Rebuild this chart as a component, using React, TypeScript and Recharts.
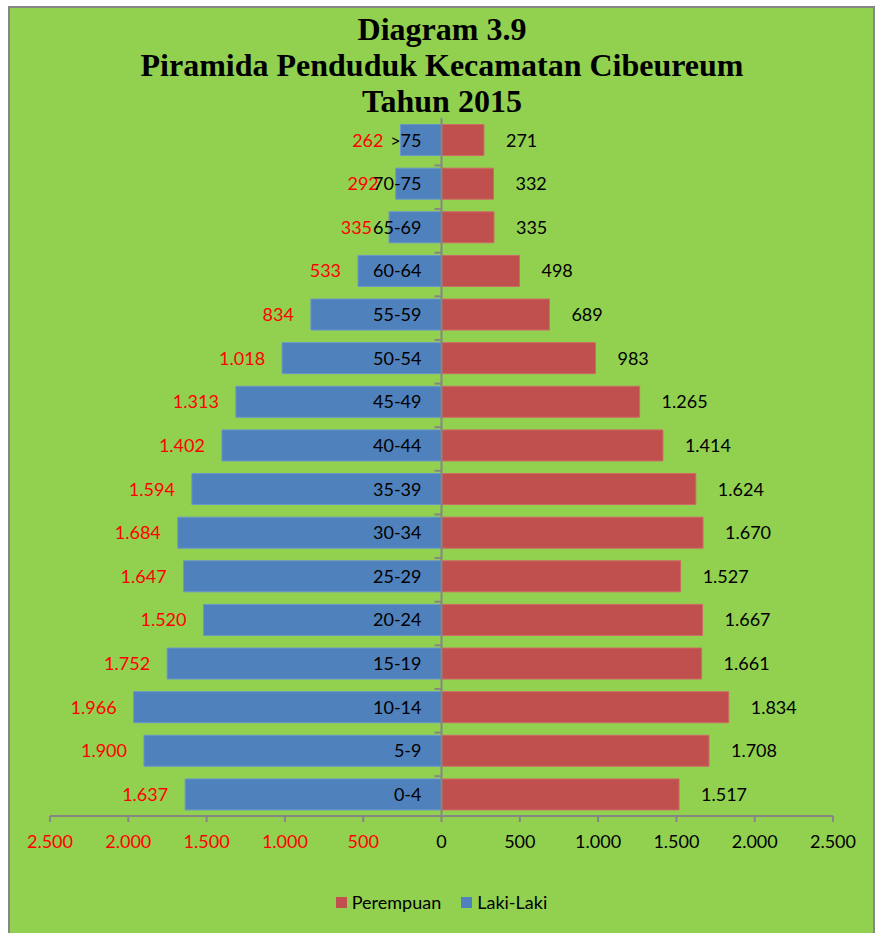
import React from "react";
import { BarChart, Bar, XAxis, YAxis, ReferenceLine, LabelList, Legend } from "recharts";

const AGE_GROUPS = [">75", "70-75", "65-69", "60-64", "55-59", "50-54", "45-49", "40-44", "35-39", "30-34", "25-29", "20-24", "15-19", "10-14", "5-9", "0-4"];
const LAKI_LAKI = [262, 292, 335, 533, 834, 1018, 1313, 1402, 1594, 1684, 1647, 1520, 1752, 1966, 1900, 1637];
const PEREMPUAN = [271, 332, 335, 498, 689, 983, 1265, 1414, 1624, 1670, 1527, 1667, 1661, 1834, 1708, 1517];
const X_TICKS = [-2500, -2000, -1500, -1000, -500, 0, 500, 1000, 1500, 2000, 2500];
const TITLE_LINES = ["Diagram 3.9", "Piramida Penduduk Kecamatan Cibeureum", "Tahun 2015"];

const BLUE = "#4F81BD";
const RED = "#C0504D";
const GREEN = "#92D050";
const AXIS = "#868686";
const FONT = "Lato, 'Open Sans', sans-serif";
const CAT_GAP = 0.15;

const fmt = (n: number) => String(Math.abs(n)).replace(/\B(?=(\d{3})+(?!\d))/g, ".");

const data = AGE_GROUPS.map((age, i) => ({ age, laki: -LAKI_LAKI[i], perempuan: PEREMPUAN[i] }));

function box(p: any) {
  const vb = p.viewBox && p.viewBox.width !== undefined ? p.viewBox : p;
  const x = Number(vb.x), y = Number(vb.y), w = Number(vb.width), h = Number(vb.height);
  return { left: Math.min(x, x + w), right: Math.max(x, x + w), top: y, h, cy: y + h / 2 };
}

const LakiLabel = (p: any) => {
  const b = box(p);
  const band = b.h / (1 - CAT_GAP);
  const tickY = b.top - (band - b.h) / 2;
  return (
    <g>
      <text x={b.left - 17} y={b.cy} dy="0.36em" textAnchor="end" fill="#FF0000" fontSize={18} fontFamily={FONT}>
        {fmt(LAKI_LAKI[p.index])}
      </text>
      <text x={b.right - 20} y={b.cy} dy="0.36em" textAnchor="end" fill="#000" fontSize={18} fontFamily={FONT}>
        {AGE_GROUPS[p.index]}
      </text>
      {p.index > 0 && <line x1={b.right - 7} x2={b.right} y1={tickY} y2={tickY} stroke={AXIS} strokeWidth={2} />}
    </g>
  );
};

const PerempuanLabel = (p: any) => {
  const b = box(p);
  return (
    <text x={b.right + 22} y={b.cy} dy="0.36em" textAnchor="start" fill="#000" fontSize={18} fontFamily={FONT}>
      {fmt(PEREMPUAN[p.index])}
    </text>
  );
};

const AxisTick = (p: any) => {
  const v = p.payload.value;
  return (
    <text x={p.x} y={p.y + 24} textAnchor="middle" fill={v < 0 ? "#FF0000" : "#000"} fontSize={18} fontFamily={FONT}>
      {fmt(v)}
    </text>
  );
};

const LegendBox = () => (
  <div style={{ height: 72, paddingTop: 30, boxSizing: "border-box", display: "flex", justifyContent: "center", alignItems: "flex-start", fontFamily: FONT, fontSize: 18, color: "#000" }}>
    {[["Perempuan", RED], ["Laki-Laki", BLUE]].map(([name, color]) => (
      <div key={name} style={{ display: "flex", alignItems: "center", margin: "0 10px" }}>
        <span style={{ width: 11, height: 11, background: color, marginRight: 5, display: "inline-block" }} />
        <span>{name}</span>
      </div>
    ))}
  </div>
);

export default function App() {
  return (
    <div style={{ position: "absolute", left: 8, top: 6, width: 867, height: 940, background: GREEN, border: `2px solid ${AXIS}`, boxSizing: "border-box", overflow: "hidden" }}>
      <div style={{ position: "absolute", left: 0, top: 0 }}>
        <BarChart width={863} height={925} data={data} layout="vertical" stackOffset="sign" barCategoryGap="15%" margin={{ top: 110, right: 40, left: 40, bottom: 0 }}>
          <XAxis type="number" domain={[-2500, 2500]} ticks={X_TICKS} height={45} tick={<AxisTick />} axisLine={{ stroke: AXIS, strokeWidth: 2 }} tickLine={{ stroke: AXIS, strokeWidth: 2 }} tickSize={6} interval={0} />
          <YAxis type="category" dataKey="age" hide />
          <Bar dataKey="laki" stackId="pyr" fill={BLUE} stroke="#6a96cc" strokeWidth={1} isAnimationActive={false}>
            <LabelList dataKey="laki" content={<LakiLabel />} />
          </Bar>
          <Bar dataKey="perempuan" stackId="pyr" fill={RED} stroke="#cf6a67" strokeWidth={1} isAnimationActive={false}>
            <LabelList dataKey="perempuan" content={<PerempuanLabel />} />
          </Bar>
          <ReferenceLine x={0} stroke={AXIS} strokeWidth={2} ifOverflow="extendDomain" />
          <Legend verticalAlign="bottom" content={<LegendBox />} />
        </BarChart>
      </div>
      <svg width={863} height={120} style={{ position: "absolute", left: 0, top: 0, pointerEvents: "none" }}>
        {TITLE_LINES.map((t, i) => (
          <text key={t} x={432} y={32 + i * 36} textAnchor="middle" fontFamily="'Liberation Serif', 'Times New Roman', serif" fontWeight="bold" fontSize={32} fill="#000">
            {t}
          </text>
        ))}
      </svg>
    </div>
  );
}
